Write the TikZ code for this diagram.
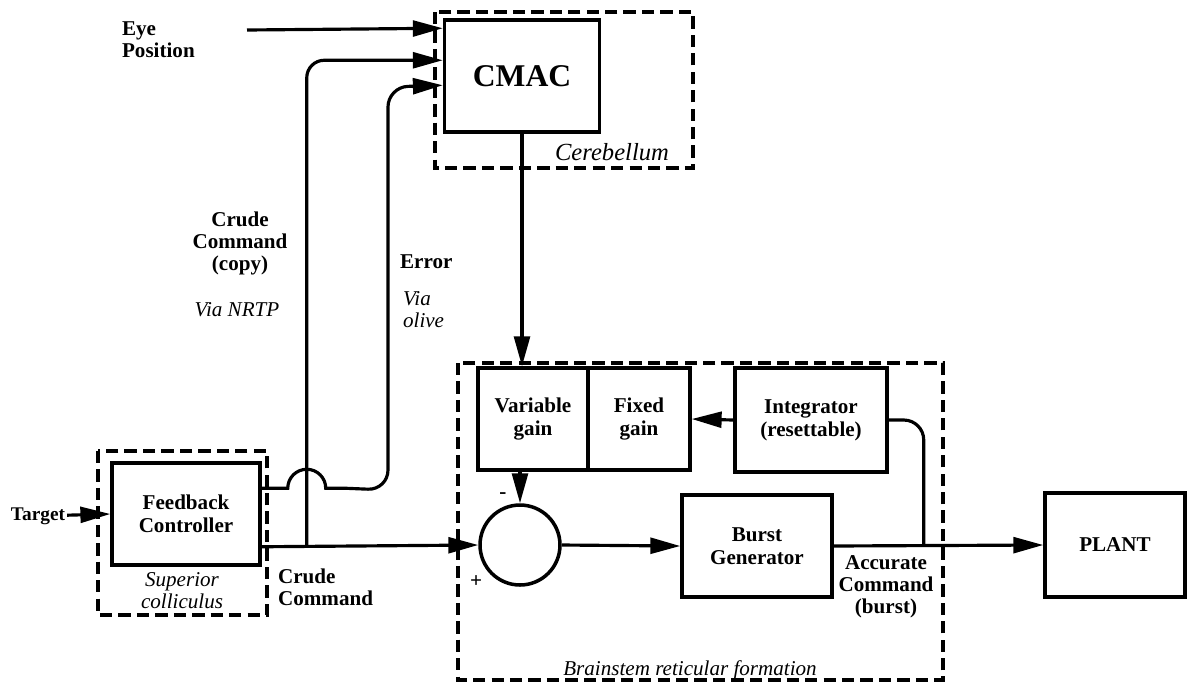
\documentclass[tikz,border=0pt]{standalone}
\usepackage{fontspec}
\setmainfont{Liberation Serif}
\usetikzlibrary{arrows.meta, calc}
\tikzset{
  blk/.style={rectangle, draw, line width=2pt, align=center, inner sep=2pt,
    font=\fontsize{12}{13}\selectfont\bfseries},
  sumnode/.style={circle, draw, line width=2pt, minimum size=1.6cm, inner sep=0pt},
  region/.style={draw, line width=1.8pt, dash pattern=on 7pt off 3.5pt},
  lbl/.style={align=center, inner sep=1pt, font=\fontsize{12}{12.5}\selectfont\bfseries},
  ilbl/.style={align=center, inner sep=1pt, font=\fontsize{12}{12.5}\selectfont\itshape},
  flow/.style={-{Triangle[length=17pt, width=9pt]}, line width=1.8pt},
  wire/.style={line width=1.8pt},
}
\begin{document}
\begin{tikzpicture}[x=0.02cm, y=-0.02cm]
  \useasboundingbox (0,0) rectangle (1192,684);
  % blocks
  \node[blk, minimum width=3.1cm, minimum height=2.24cm, font=\fontsize{18}{20}\selectfont\bfseries] (cmac) at (522,76) {CMAC};
  \node[blk, minimum width=2.96cm, minimum height=2.04cm] (fb) at (186,514) {Feedback\\Controller};
  \node[blk, minimum width=2.2cm, minimum height=2.04cm] (vg) at (533,419) {Variable\\gain};
  \node[blk, minimum width=2.04cm, minimum height=2.04cm] (fg) at (639,419) {Fixed\\gain};
  \node[blk, minimum width=3.04cm, minimum height=2.08cm] (integ) at (811,420) {Integrator\\(resettable)};
  \node[sumnode] (sum) at (520,545) {};
  \node[blk, minimum width=3.0cm, minimum height=2.04cm] (burst) at (757,546) {Burst\\Generator};
  \node[blk, minimum width=2.8cm, minimum height=2.08cm] (plant) at (1115,545) {PLANT};
  % dashed regions
  \draw[region] (435,12) rectangle (693,168);
  \draw[region] (98,451) rectangle (267,615);
  \draw[region] (458,363) rectangle (943,680);
  % labels
  \node[lbl, anchor=west, align=left] (eyelbl) at (120,40) {Eye\\Position};
  \node[lbl, font=\fontsize{11}{12}\selectfont\bfseries] (target) at (38,516) {Target};
  \node[lbl] (copylbl) at (240,243) {Crude\\Command\\(copy)};
  \node[ilbl] (nrtp) at (237,310) {Via NRTP};
  \node[lbl, anchor=west] (errlbl) at (398,262) {Error};
  \node[ilbl, anchor=west, align=left] (olive) at (401,310) {Via\\olive};
  \node[lbl, anchor=west, align=left] (crudelbl) at (276,587) {Crude\\Command};
  \node[lbl] (acclbl) at (886,587) {Accurate\\Command\\(burst)};
  \node[ilbl] (sclbl) at (182,591) {Superior\\colliculus};
  \node[ilbl, font=\fontsize{14}{16}\selectfont\itshape] (cblbl) at (612,152) {Cerebellum};
  \node[ilbl, anchor=base] (bslbl) at (690,675) {Brainstem reticular formation};
  \node[lbl] (minus) at (503,496) {-};
  \node[lbl] (plus) at (476,582) {+};
  % ports
  \path (cmac.north west) ++(0,10) coordinate (cin1) ++(0,32) coordinate (cin2) ++(0,25) coordinate (cin3);
  \path (fb.north east) ++(0,27) coordinate (fbout);
  \path (fb.south east) ++(0,-20) coordinate (fbcrude);
  \coordinate (jc) at ($(fbcrude)+(45,0)$);
  \coordinate (jb) at ($(burst.east)+(90,0)$);
  \coordinate (eyestart) at (247,30);
  % connectors
  \draw[flow] (eyestart) -- (cin1);
  \draw[flow] (target) -- (fb.west);
  \draw[flow] (fbcrude) -- (sum.west);
  \draw[flow, rounded corners=0.35cm] (jc) |- (cin2);
  \draw[flow] (fbout) -- ($(jc |- fbout)+(-19,0)$) arc[start angle=180, end angle=0, radius=0.38cm]
    -- ++(20,0) [rounded corners=0.4cm] -- (388,490) -- (388,87) -- (cin3);
  \draw[flow] (cmac.south) -- (cmac.south |- vg.north);
  \draw[flow] (sum.north |- vg.south) -- (sum.north);
  \draw[flow] (integ.west) -- (fg.east);
  \draw[flow] (sum.east) -- (burst.west);
  \draw[flow] (burst.east) -- (plant.west);
  \draw[wire, rounded corners=0.4cm] (jb) |- (integ.east);
\end{tikzpicture}
\end{document}
